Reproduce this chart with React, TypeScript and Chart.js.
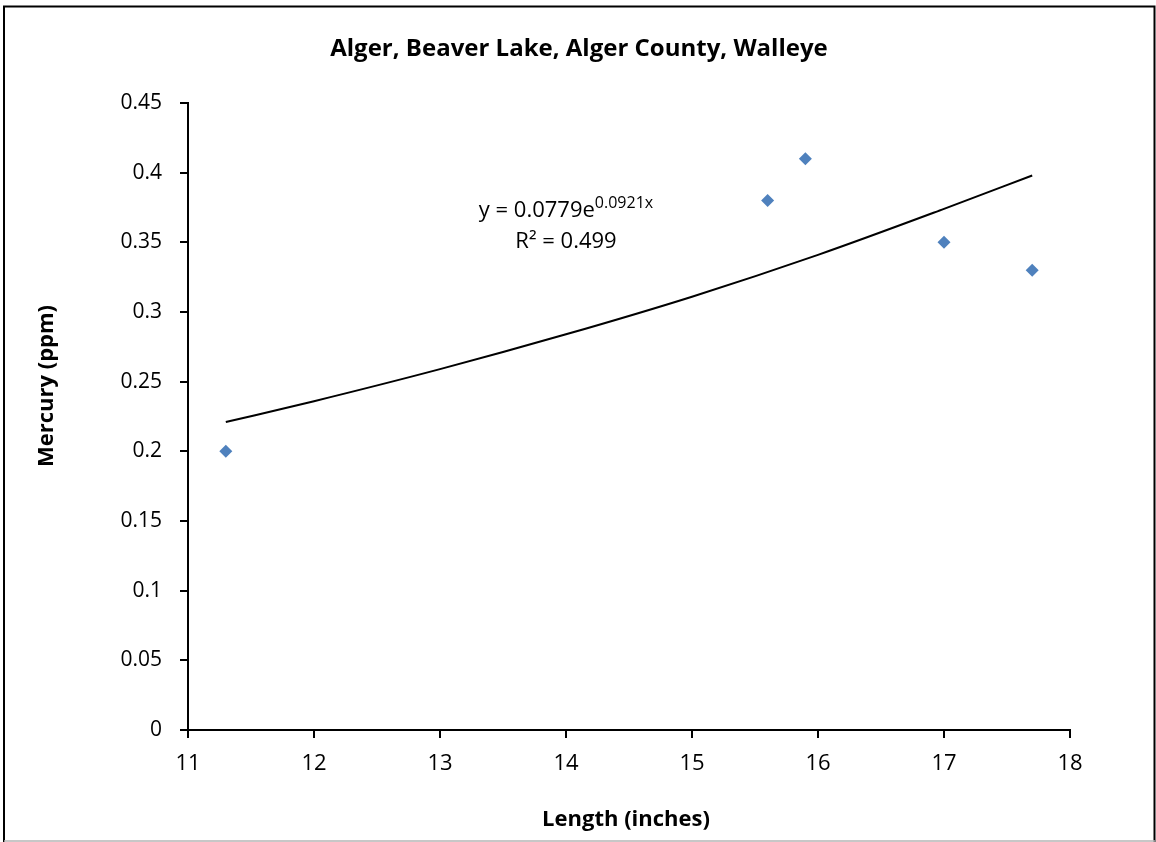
import React, { useEffect, useRef } from "react";
import { Chart, registerables } from "chart.js";

Chart.register(...registerables);

const TITLE = "Alger, Beaver Lake, Alger County, Walleye";
const X_TITLE = "Length (inches)";
const Y_TITLE = "Mercury (ppm)";

const lengths = [11.3, 15.6, 15.9, 17.0, 17.7];
const mercury = [0.2, 0.38, 0.41, 0.35, 0.33];

// trendline
const trendX = [11.3, 12, 13, 14, 15, 16, 17, 17.7];
const trendY = [0.221, 0.236, 0.259, 0.284, 0.311, 0.341, 0.374, 0.398];

const EQ_MAIN = "y = 0.0779e";
const EQ_SUP = "0.0921x";
const R2_TEXT = "R² = 0.499";
const EQ_ANCHOR = { x: 14.0, y: 0.374 };

const FONT = "'Open Sans', Lato, sans-serif";

export default function App() {
  const ref = useRef<HTMLCanvasElement | null>(null);

  useEffect(() => {
    document.body.style.margin = "0";
    const canvas = ref.current;
    if (!canvas) return;

    const framePlugin = {
      id: "frame",
      beforeDraw(chart: any) {
        const ctx = chart.ctx;
        ctx.save();
        ctx.fillStyle = "#ffffff";
        ctx.fillRect(0, 0, chart.width, chart.height);
        ctx.strokeStyle = "#000000";
        ctx.lineWidth = 2;
        ctx.beginPath();
        ctx.moveTo(4, 860);
        ctx.lineTo(4, 6.5);
        ctx.lineTo(1154.5, 6.5);
        ctx.lineTo(1154.5, 860);
        ctx.stroke();
        ctx.strokeStyle = "#b4b4b4";
        ctx.lineWidth = 1.5;
        ctx.beginPath();
        ctx.moveTo(4, 841);
        ctx.lineTo(1155, 841);
        ctx.stroke();
        ctx.restore();
      },
      afterDraw(chart: any) {
        const ctx = chart.ctx;
        const xs = chart.scales.x;
        const ys = chart.scales.y;
        ctx.save();
        ctx.fillStyle = "#000000";
        // title
        ctx.font = `bold 24px ${FONT}`;
        ctx.textAlign = "center";
        ctx.textBaseline = "alphabetic";
        ctx.fillText(TITLE, 579, 56);
        // x title
        ctx.font = `bold 22px ${FONT}`;
        ctx.fillText(X_TITLE, (xs.left + xs.right) / 2 - 3, 826);
        // y title
        ctx.save();
        ctx.translate(53, 386);
        ctx.rotate(-Math.PI / 2);
        ctx.fillText(Y_TITLE, 0, 0);
        ctx.restore();
        // equation
        const cx = xs.getPixelForValue(EQ_ANCHOR.x);
        const cy = ys.getPixelForValue(EQ_ANCHOR.y);
        ctx.font = `22px ${FONT}`;
        const wMain = ctx.measureText(EQ_MAIN).width;
        ctx.font = `16px ${FONT}`;
        const wSup = ctx.measureText(EQ_SUP).width;
        const total = wMain + wSup;
        const startX = cx - total / 2;
        ctx.textAlign = "left";
        ctx.font = `22px ${FONT}`;
        ctx.fillText(EQ_MAIN, startX, cy + 8);
        ctx.font = `16px ${FONT}`;
        ctx.fillText(EQ_SUP, startX + wMain, cy - 1);
        ctx.font = `22px ${FONT}`;
        ctx.textAlign = "center";
        ctx.fillText(R2_TEXT, cx, cy + 39);
        ctx.restore();
      },
    };

    const chart = new Chart(canvas, {
      type: "scatter",
      data: {
        datasets: [
          {
            label: "Walleye",
            data: lengths.map((x, i) => ({ x, y: mercury[i] })),
            pointStyle: "rectRot",
            pointRadius: 6.5,
            pointBackgroundColor: "#4F81BD",
            pointBorderColor: "#4F81BD",
            pointBorderWidth: 0,
            showLine: false,
            order: 1,
          },
          {
            label: "Trend",
            data: trendX.map((x, i) => ({ x, y: trendY[i] })),
            showLine: true,
            borderColor: "#000000",
            borderWidth: 2,
            pointRadius: 0,
            cubicInterpolationMode: "monotone",
            fill: false,
            order: 2,
          } as any,
        ],
      },
      options: {
        animation: false,
        responsive: false,
        events: [],
        layout: { padding: { left: 0, right: 86, top: 103, bottom: 0 } },
        plugins: {
          legend: { display: false },
          title: { display: false },
          tooltip: { enabled: false },
        },
        scales: {
          x: {
            type: "linear",
            min: 11,
            max: 18,
            afterFit: (s: any) => {
              s.height = 112;
            },
            ticks: {
              stepSize: 1,
              color: "#000000",
              font: { family: FONT, size: 22 },
              padding: 13,
            },
            grid: {
              drawOnChartArea: false,
              drawTicks: true,
              tickLength: 8,
              color: "#000000",
              lineWidth: 2,
            },
            border: { color: "#000000", width: 2 },
          },
          y: {
            type: "linear",
            min: 0,
            max: 0.45,
            afterFit: (s: any) => {
              s.width = 188;
            },
            ticks: {
              stepSize: 0.05,
              color: "#000000",
              font: { family: FONT, size: 21 },
              padding: 18,
              callback: (v: any) => String(Math.round(Number(v) * 100) / 100),
            },
            grid: {
              drawOnChartArea: false,
              drawTicks: true,
              tickLength: 8,
              color: "#000000",
              lineWidth: 2,
            },
            border: { color: "#000000", width: 2 },
          },
        },
      },
      plugins: [framePlugin],
    });

    return () => chart.destroy();
  }, []);

  return (
    <div style={{ width: 1156, height: 842 }}>
      <canvas ref={ref} width={1156} height={842} style={{ display: "block" }} />
    </div>
  );
}
